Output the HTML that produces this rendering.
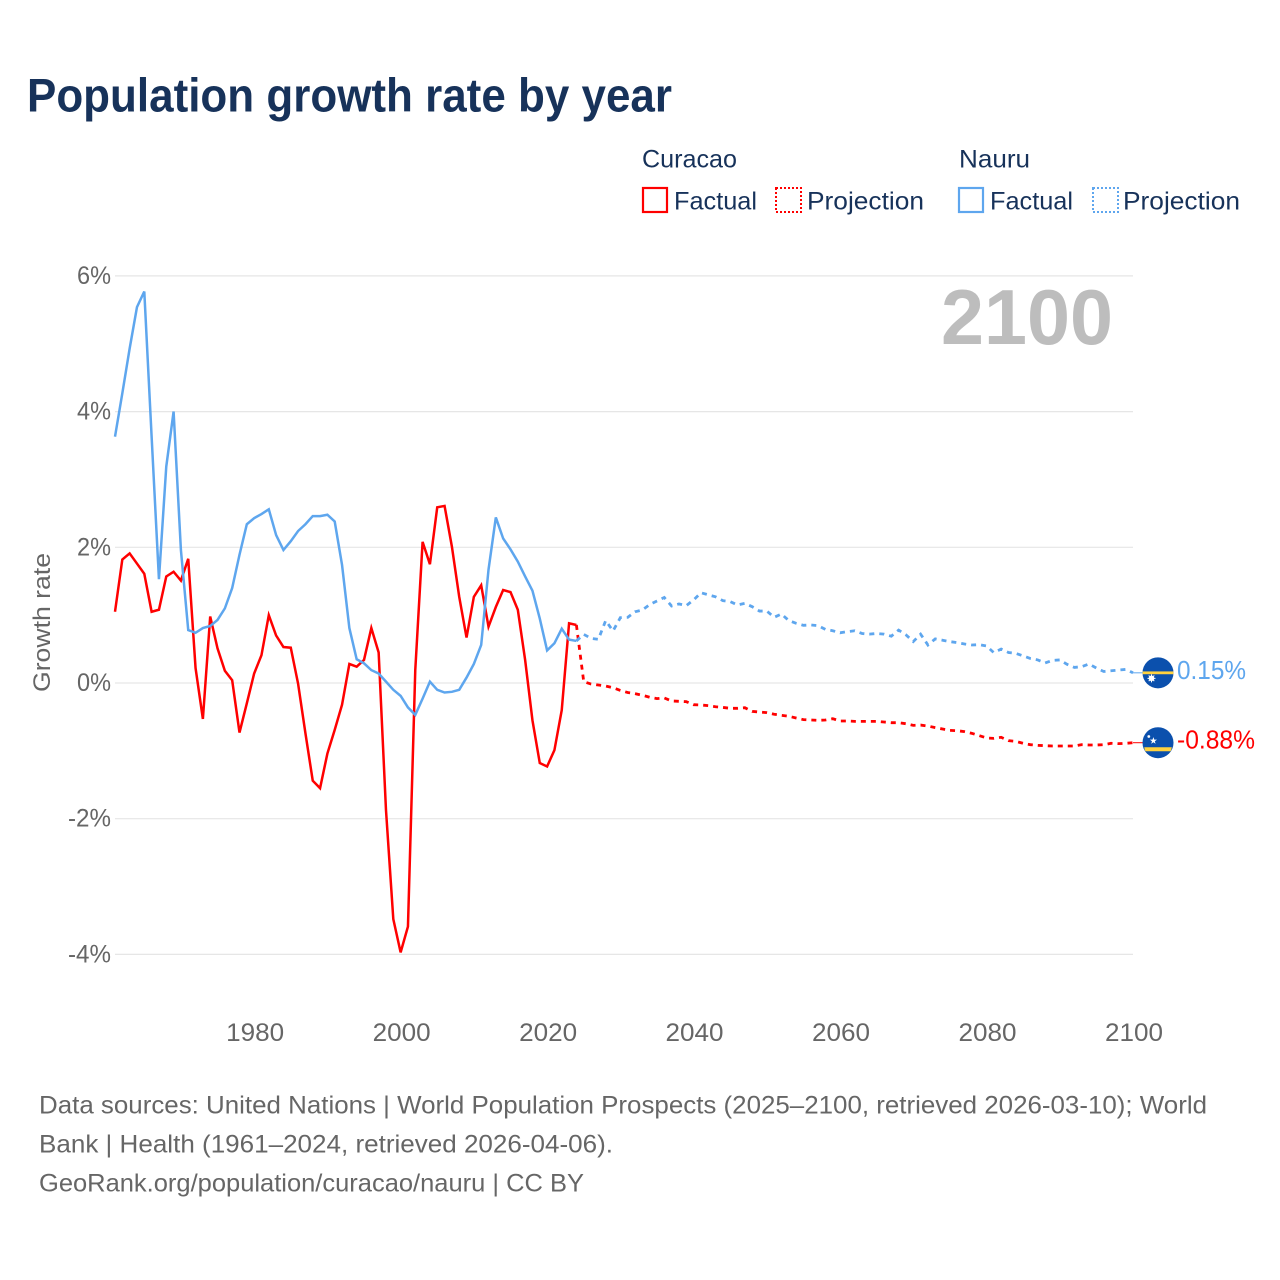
<!DOCTYPE html>
<html lang="en">
<head>
<meta charset="utf-8">
<title>Population growth rate by year</title>
<style>
  html, body { margin: 0; padding: 0; background: #ffffff; }
  svg { display: block; }
  text { font-family: "Liberation Sans", sans-serif; }
</style>
</head>
<body>
<svg id="chart" xmlns="http://www.w3.org/2000/svg" width="1280" height="1280" viewBox="0 0 1280 1280">
  <rect x="0" y="0" width="1280" height="1280" fill="#ffffff"/>
  <text x="27" y="111.5" font-size="47" font-weight="700" fill="#17325a" textLength="645" lengthAdjust="spacingAndGlyphs">Population growth rate by year</text>

  <g font-size="25" fill="#17325a">
    <text x="642" y="167.5" textLength="95" lengthAdjust="spacingAndGlyphs">Curacao</text>
    <text x="959" y="167.5" textLength="71" lengthAdjust="spacingAndGlyphs">Nauru</text>
    <g>
      <rect x="643" y="188" width="24" height="24" fill="none" stroke="#ff0000" stroke-width="2.2"/>
      <text x="674" y="209.5" textLength="83" lengthAdjust="spacingAndGlyphs">Factual</text>
    </g>
    <g>
      <rect x="776" y="188" width="25" height="24" fill="none" stroke="#ff0000" stroke-width="2" stroke-dasharray="2 2"/>
      <text x="807" y="209.5" textLength="117" lengthAdjust="spacingAndGlyphs">Projection</text>
    </g>
    <g>
      <rect x="959" y="188" width="24" height="24" fill="none" stroke="#5ea6ee" stroke-width="2.2"/>
      <text x="990" y="209.5" textLength="83" lengthAdjust="spacingAndGlyphs">Factual</text>
    </g>
    <g>
      <rect x="1093" y="188" width="25" height="24" fill="none" stroke="#5ea6ee" stroke-width="2" stroke-dasharray="2 2"/>
      <text x="1123" y="209.5" textLength="117" lengthAdjust="spacingAndGlyphs">Projection</text>
    </g>
  </g>

  <g id="grid"></g>
  <g id="y-ticks"></g>
  <g id="x-ticks"></g>
  <text transform="translate(50,622.5) rotate(-90)" text-anchor="middle" font-size="24" fill="#666666" textLength="139" lengthAdjust="spacingAndGlyphs">Growth rate</text>
  <text x="941" y="344" font-size="78" font-weight="700" fill="#bdbdbd" textLength="172" lengthAdjust="spacingAndGlyphs">2100</text>

  <g id="series"></g>
  <g id="ends"></g>

  <g font-size="25" fill="#666666">
    <text x="39" y="1113.5" textLength="1168" lengthAdjust="spacingAndGlyphs">Data sources: United Nations | World Population Prospects (2025–2100, retrieved 2026-03-10); World</text>
    <text x="39" y="1152.5" textLength="574" lengthAdjust="spacingAndGlyphs">Bank | Health (1961–2024, retrieved 2026-04-06).</text>
    <text x="39" y="1191.5" textLength="545" lengthAdjust="spacingAndGlyphs">GeoRank.org/population/curacao/nauru | CC BY</text>
  </g>
</svg>
<script>
const firstYear = 1961;
const lastFactualYear = 2024;
const xTickYears = [1980, 2000, 2020, 2040, 2060, 2080, 2100];
const yTickValues = [6, 4, 2, 0, -2, -4];

const curacaoFactual = [
  1.05, 1.82, 1.91, 1.76, 1.61, 1.05, 1.08, 1.57, 1.64, 1.51,
  1.83, 0.22, -0.53, 0.98, 0.51, 0.18, 0.04, -0.73, -0.30, 0.14,
  0.41, 1.00, 0.70, 0.53, 0.52, -0.01, -0.74, -1.44, -1.55, -1.04,
  -0.69, -0.32, 0.28, 0.24, 0.34, 0.81, 0.45, -1.87, -3.48, -3.97,
  -3.59, 0.19, 2.08, 1.75, 2.59, 2.61, 2.01, 1.27, 0.67, 1.27,
  1.44, 0.83, 1.12, 1.37, 1.34, 1.08, 0.34, -0.55, -1.18, -1.23,
  -0.99, -0.40, 0.88, 0.855
];

const curacaoProjection = [
  0.02, -0.015, -0.03, -0.044, -0.07, -0.11, -0.14, -0.157, -0.18, -0.21,
  -0.23, -0.22, -0.265, -0.27, -0.275, -0.32, -0.324, -0.334, -0.35, -0.36,
  -0.373, -0.373, -0.364, -0.418, -0.428, -0.437, -0.46, -0.477, -0.49, -0.516,
  -0.54, -0.545, -0.55, -0.545, -0.526, -0.56, -0.56, -0.565, -0.565, -0.565,
  -0.565, -0.575, -0.585, -0.585, -0.60, -0.624, -0.62, -0.634, -0.658, -0.678,
  -0.698, -0.703, -0.717, -0.742, -0.776, -0.81, -0.816, -0.80, -0.85, -0.86,
  -0.889, -0.909, -0.919, -0.924, -0.929, -0.929, -0.929, -0.929, -0.909, -0.914,
  -0.914, -0.909, -0.889, -0.894, -0.889, -0.88
];

const nauruFactual = [
  3.63, 4.27, 4.93, 5.54, 5.77, 3.63, 1.53, 3.19, 4.00, 1.96,
  0.78, 0.74, 0.81, 0.84, 0.93, 1.10, 1.40, 1.89, 2.34, 2.43,
  2.49, 2.56, 2.18, 1.96, 2.09, 2.24, 2.34, 2.46, 2.46, 2.48,
  2.38, 1.74, 0.81, 0.35, 0.29, 0.19, 0.14, 0.02, -0.10, -0.19,
  -0.36, -0.47, -0.23, 0.02, -0.10, -0.14, -0.13, -0.10, 0.08, 0.28,
  0.56, 1.67, 2.44, 2.13, 1.97, 1.79, 1.57, 1.36, 0.95, 0.48,
  0.585, 0.80, 0.64, 0.62
];

const nauruProjection = [
  0.717, 0.658, 0.644, 0.92, 0.767, 0.963, 0.968, 1.05, 1.076, 1.155,
  1.209, 1.26, 1.135, 1.165, 1.14, 1.224, 1.33, 1.30, 1.27, 1.214,
  1.20, 1.15, 1.174, 1.125, 1.06, 1.06, 0.968, 1.017, 0.92, 0.88,
  0.85, 0.855, 0.845, 0.79, 0.77, 0.74, 0.757, 0.77, 0.73, 0.72,
  0.73, 0.72, 0.69, 0.78, 0.71, 0.61, 0.72, 0.56, 0.65, 0.63,
  0.61, 0.595, 0.575, 0.56, 0.565, 0.545, 0.447, 0.50, 0.45, 0.437,
  0.40, 0.36, 0.34, 0.295, 0.334, 0.34, 0.275, 0.23, 0.24, 0.28,
  0.22, 0.17, 0.18, 0.19, 0.20, 0.15
];

const curacaoEndLabel = "-0.88%";
const nauruEndLabel = "0.15%";

const SVG_NS = "http://www.w3.org/2000/svg";
const plotLeft = 115;
const plotRight = 1133;
const zeroY = 683;
const pxPerPercent = 67.85;
const pxPerYear = (plotRight - plotLeft) / (2100 - firstYear);

function xScale(year) { return plotLeft + (year - firstYear) * pxPerYear; }
function yScale(value) { return zeroY - value * pxPerPercent; }
function make(tag, parent) {
  const node = document.createElementNS(SVG_NS, tag);
  document.getElementById(parent).appendChild(node);
  return node;
}
function pathFrom(startYear, values) {
  return values.map(function (v, i) {
    return (i ? "L" : "M") + xScale(startYear + i).toFixed(2) + " " + yScale(v).toFixed(2);
  }).join(" ");
}

yTickValues.forEach(function (v) {
  const line = make("line", "grid");
  
  
  line.setAttribute("x1", plotLeft);
  line.setAttribute("x2", plotRight);
  line.setAttribute("y1", yScale(v));
  line.setAttribute("y2", yScale(v));
  line.setAttribute("stroke", "#e6e6e6");
  line.setAttribute("stroke-width", "1.2");

  const label = make("text", "y-ticks");
  
  
  label.setAttribute("x", 111);
  label.setAttribute("y", yScale(v) + 8);
  label.setAttribute("text-anchor", "end");
  label.setAttribute("font-size", "25");
  label.setAttribute("fill", "#666666");
  label.setAttribute("textLength", v < 0 ? 43 : 34);
  label.setAttribute("lengthAdjust", "spacingAndGlyphs");
  label.textContent = v + "%";
});

xTickYears.forEach(function (year) {
  const label = make("text", "x-ticks");
  
  
  label.setAttribute("x", xScale(year) + 1);
  label.setAttribute("y", 1041);
  label.setAttribute("text-anchor", "middle");
  label.setAttribute("font-size", "25");
  label.setAttribute("fill", "#666666");
  label.setAttribute("textLength", 58);
  label.setAttribute("lengthAdjust", "spacingAndGlyphs");
  label.textContent = year;
});

function projectionWithJoin(factual, projection) {
  return [factual[factual.length - 1]].concat(projection);
}

const curacaoLine = make("path", "series");


curacaoLine.setAttribute("d", pathFrom(firstYear, curacaoFactual));
curacaoLine.setAttribute("fill", "none");
curacaoLine.setAttribute("stroke", "#ff0000");
curacaoLine.setAttribute("stroke-width", "2.5");

const curacaoDash = make("path", "series");


curacaoDash.setAttribute("d", pathFrom(lastFactualYear, projectionWithJoin(curacaoFactual, curacaoProjection)));
curacaoDash.setAttribute("fill", "none");
curacaoDash.setAttribute("stroke", "#ff0000");
curacaoDash.setAttribute("stroke-width", "2.8");
curacaoDash.setAttribute("stroke-dasharray", "5 5");

const nauruLine = make("path", "series");


nauruLine.setAttribute("d", pathFrom(firstYear, nauruFactual));
nauruLine.setAttribute("fill", "none");
nauruLine.setAttribute("stroke", "#5ea6ee");
nauruLine.setAttribute("stroke-width", "2.5");

const nauruDash = make("path", "series");


nauruDash.setAttribute("d", pathFrom(lastFactualYear, projectionWithJoin(nauruFactual, nauruProjection)));
nauruDash.setAttribute("fill", "none");
nauruDash.setAttribute("stroke", "#5ea6ee");
nauruDash.setAttribute("stroke-width", "2.8");
nauruDash.setAttribute("stroke-dasharray", "5 5");

function addLeader(value, color, name) {
  const leader = make("line", "ends");
  
  
  leader.setAttribute("x1", plotRight);
  leader.setAttribute("x2", 1143);
  leader.setAttribute("y1", yScale(value));
  leader.setAttribute("y2", yScale(value));
  leader.setAttribute("stroke", color);
  leader.setAttribute("stroke-width", "1");
}
function addEndLabel(value, color, text, width, name) {
  const label = make("text", "ends");
  
  
  label.setAttribute("x", 1177);
  label.setAttribute("y", yScale(value) + 6);
  label.setAttribute("font-size", "26");
  label.setAttribute("fill", color);
  label.setAttribute("textLength", width);
  label.setAttribute("lengthAdjust", "spacingAndGlyphs");
  label.textContent = text;
}

const nauruEnd = nauruProjection[nauruProjection.length - 1];
const curacaoEnd = curacaoProjection[curacaoProjection.length - 1];
addLeader(nauruEnd, "#5ea6ee", "nauru-end-leader");
addLeader(curacaoEnd, "#ff0000", "curacao-end-leader");
addEndLabel(nauruEnd, "#5ea6ee", nauruEndLabel, 69, "nauru-end-value");
addEndLabel(curacaoEnd, "#ff0000", curacaoEndLabel, 78, "curacao-end-value");

const nauruFlag = make("g", "ends");


nauruFlag.setAttribute("transform", "translate(1158," + yScale(nauruEnd) + ")");
nauruFlag.innerHTML = '<circle r="15.5" fill="#0b50ad"/>' +
  '<rect x="-15.4" y="-1.4" width="30.8" height="2.8" fill="#ffd23f"/>' +
  '<circle cx="-6.5" cy="5.5" r="2.8" fill="#ffffff"/>' +
  '<path d="M-6.5 1.5V9.5M-10.5 5.5H-2.5M-9.3 2.7L-3.7 8.3M-9.3 8.3L-3.7 2.7" stroke="#ffffff" stroke-width="1"/>';

const curacaoFlag = make("g", "ends");


curacaoFlag.setAttribute("transform", "translate(1158," + yScale(curacaoEnd) + ")");
curacaoFlag.innerHTML = '<circle r="15.5" fill="#0b50ad"/>' +
  '<path d="M-13.8 4.6H13.8A15.5 15.5 0 0 1 12.6 8.6H-12.6A15.5 15.5 0 0 1 -13.8 4.6Z" fill="#ffd23f"/>' +
  '<path d="M-4.6 -5.6L-3.7 -3.1L-1 -3.1L-3.2 -1.5L-2.4 1.1L-4.6 -0.5L-6.8 1.1L-6 -1.5L-8.2 -3.1L-5.5 -3.1Z" fill="#ffffff"/>' +
  '<circle cx="-9.2" cy="-6.2" r="1.4" fill="#ffffff"/>';
</script>
</body>
</html>
